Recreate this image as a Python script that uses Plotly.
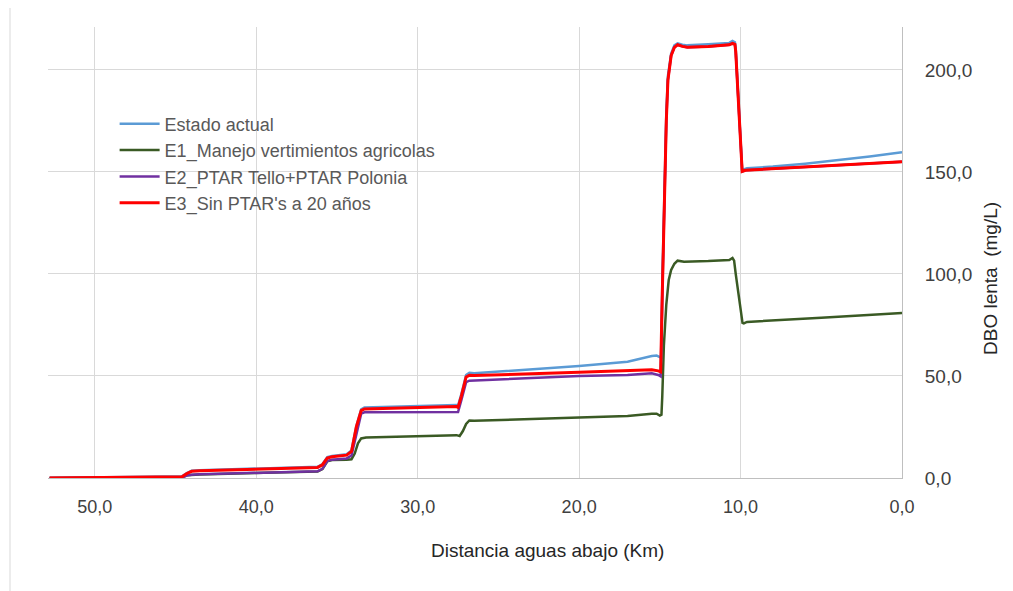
import plotly.graph_objects as go

# Distance (km) and DBO lenta (mg/L)
km_actual = [52.8, 48.0, 44.6, 44.3, 44.0, 43.5, 36.2, 35.9, 35.6, 35.3, 34.4, 34.1, 33.8, 33.5, 33.3,
             27.6, 27.5, 27.3, 27.0, 26.8, 26.5, 20.0, 17.0, 15.5, 15.2, 15.0, 14.9, 14.85, 14.7, 14.6,
             14.5, 14.3, 14.1, 13.9, 13.6, 13.3, 12.0, 10.7, 10.5, 10.35, 10.3, 10.2, 9.95, 9.9, 9.6,
             8.0, 6.0, 4.3, 2.0, 0.0]
estado_actual = [0.0, 0.3, 0.8, 2.4, 3.6, 3.8, 5.5, 6.8, 10.2, 10.8, 11.6, 13.5, 25.5, 33.6, 34.5,
                 35.8, 35.5, 41.0, 50.5, 51.5, 51.3, 54.9, 57.0, 59.8, 60.0, 59.2, 59.0, 95.0, 155.0, 178.0,
                 197.0, 208.0, 212.0, 213.0, 212.3, 212.0, 212.5, 213.2, 214.2, 213.5, 210.0, 195.0, 153.0, 151.0, 151.8,
                 152.6, 154.0, 155.4, 157.5, 159.6]

km_e1 = [52.8, 48.0, 44.6, 44.3, 44.0, 43.5, 36.2, 35.9, 35.6, 35.3, 34.4, 34.1, 33.9, 33.7, 33.5,
         33.2, 27.6, 27.4, 27.2, 27.0, 26.8, 26.5, 20.0, 17.0, 15.5, 15.2, 15.0, 14.9, 14.85, 14.75,
         14.6, 14.45, 14.3, 14.1, 13.9, 13.5, 12.0, 10.7, 10.5, 10.4, 10.3, 10.0, 9.88, 9.8, 9.6,
         5.0, 0.0]
e1_manejo = [0.0, 0.1, 0.3, 1.3, 1.5, 1.7, 3.2, 4.4, 8.2, 8.8, 9.0, 9.2, 12.0, 17.0, 19.4,
             19.8, 21.0, 20.6, 23.0, 26.5, 28.2, 28.0, 29.7, 30.4, 31.5, 31.5, 30.6, 31.0, 40.0, 65.0,
             85.0, 97.0, 102.0, 105.0, 106.5, 106.0, 106.3, 106.8, 107.8, 106.5, 100.0, 83.0, 76.0, 75.8, 76.5,
             78.5, 80.8]

km_e2 = [52.8, 48.0, 44.6, 44.3, 44.0, 43.5, 36.2, 35.9, 35.6, 35.3, 34.4, 34.1, 33.8, 33.5, 33.3,
         27.6, 27.5, 27.3, 27.0, 26.8, 26.5, 20.0, 17.0, 15.5, 15.1, 14.95, 14.85, 14.7, 14.6, 14.5,
         14.3, 14.1, 13.9, 13.6, 13.3, 12.0, 10.7, 10.5, 10.35, 10.3, 10.2, 9.95, 9.9, 9.7, 8.0,
         4.3, 0.0]
e2_ptar = [0.0, 0.1, 0.3, 1.2, 1.6, 1.8, 3.3, 4.5, 8.3, 9.0, 9.6, 11.0, 22.0, 31.5, 32.2,
           32.6, 32.3, 38.0, 47.0, 47.7, 47.8, 50.0, 50.5, 51.3, 50.5, 49.8, 90.0, 150.0, 175.0, 195.0,
           207.0, 211.0, 212.3, 211.5, 211.1, 211.5, 212.3, 213.0, 212.5, 209.0, 194.0, 152.0, 150.2, 150.8, 151.5,
           153.0, 155.0]

km_e3 = km_e2
e3_sin_ptar = [0.0, 0.2, 0.6, 2.2, 3.3, 3.5, 5.2, 6.5, 9.8, 10.4, 11.2, 13.0, 25.0, 33.0, 33.8,
               35.0, 34.6, 40.0, 49.5, 50.3, 50.2, 51.8, 52.5, 53.0, 52.5, 52.0, 90.0, 150.0, 175.0, 195.0,
               207.0, 211.0, 212.3, 211.5, 211.1, 211.5, 212.3, 213.0, 212.5, 209.0, 194.0, 152.0, 150.2, 150.8, 151.5,
               153.0, 155.0]

names = ["Estado actual", "E1_Manejo vertimientos agricolas", "E2_PTAR Tello+PTAR Polonia", "E3_Sin PTAR's a 20 años"]
colors = ["#5B9BD5", "#3A5A24", "#7030A0", "#FF0000"]
widths = [2.5, 2.5, 2.5, 3]
xs = [km_actual, km_e1, km_e2, km_e3]
ys = [estado_actual, e1_manejo, e2_ptar, e3_sin_ptar]

x_ticks = [50, 40, 30, 20, 10, 0]
y_ticks = [0, 50, 100, 150, 200]

fig = go.Figure()
for n, c, w, x, y in zip(names, colors, widths, xs, ys):
    fig.add_trace(go.Scatter(x=x, y=y, mode="lines", name=n,
                             line=dict(color=c, width=w)))

font_main = "Liberation Sans, Arial, sans-serif"

# page has an 8px body margin; plot area in page coords: x 48..902, y 27..478
fig.update_layout(
    width=1005, height=583,
    margin=dict(l=40, r=111, t=19, b=113),
    paper_bgcolor="white", plot_bgcolor="white",
    separators=",.",
    font=dict(family=font_main, size=19, color="#404040"),
    showlegend=True,
    legend=dict(x=0.078, y=0.826, xanchor="left", yanchor="top",
                bgcolor="rgba(0,0,0,0)", borderwidth=0,
                font=dict(family=font_main, size=18, color="#595959"),
                tracegroupgap=0, itemwidth=40),
    xaxis=dict(range=[52.9, 0], tickvals=x_ticks, tickformat=".1f",
               showgrid=True, gridcolor="#D9D9D9", gridwidth=1,
               zeroline=False, showline=True, linecolor="#BFBFBF", linewidth=1,
               ticks="", ticklabelstandoff=12,
               tickfont=dict(family=font_main, size=18, color="#404040")),
    yaxis=dict(range=[0, 221], tickvals=y_ticks, tickformat=".1f", side="right",
               showgrid=True, gridcolor="#D9D9D9", gridwidth=1,
               zeroline=False, showline=True, linecolor="#BFBFBF", linewidth=1,
               ticks="", ticklabelstandoff=18,
               tickfont=dict(family=font_main, size=19, color="#404040")),
    annotations=[
        dict(text="Distancia aguas abajo (Km)", xref="paper", yref="paper",
             x=(547 - 48) / 854, y=-(550 - 478) / 451, xanchor="center", yanchor="middle",
             showarrow=False, font=dict(family=font_main, size=19, color="#262626")),
        dict(text="DBO lenta  (mg/L)", xref="paper", yref="paper",
             x=(990 - 48) / 854, y=(478 - 278) / 451, xanchor="center", yanchor="middle",
             textangle=-90, showarrow=False,
             font=dict(family=font_main, size=19, color="#262626")),
    ],
    shapes=[
        dict(type="rect", xref="paper", yref="paper",
             x0=(10 - 48) / 854, x1=(1030 - 48) / 854,
             y0=-(610 - 478) / 451, y1=1 + (27 - 7) / 451,
             line=dict(color="#D9D9D9", width=1), fillcolor="rgba(0,0,0,0)", layer="below"),
    ],
)

fig.write_html("out.html")
